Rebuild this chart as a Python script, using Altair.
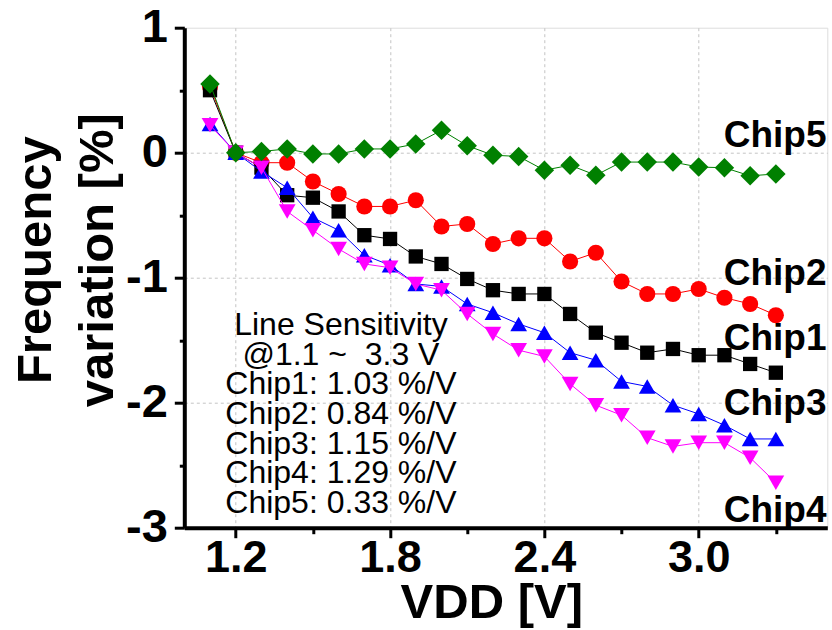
import altair as alt
import pandas as pd

vdd = [1.1, 1.2, 1.3, 1.4, 1.5, 1.6, 1.7, 1.8, 1.9, 2.0, 2.1, 2.2,
       2.3, 2.4, 2.5, 2.6, 2.7, 2.8, 2.9, 3.0, 3.1, 3.2, 3.3]
chip1 = [0.50, 0.0, -0.12, -0.34, -0.36, -0.47, -0.66, -0.69, -0.83, -0.89, -1.01, -1.10,
         -1.13, -1.13, -1.29, -1.44, -1.52, -1.60, -1.57, -1.62, -1.62, -1.69, -1.76]
chip2 = [0.53, 0.0, -0.08, -0.08, -0.23, -0.33, -0.43, -0.43, -0.38, -0.59, -0.57, -0.73,
         -0.685, -0.685, -0.87, -0.80, -1.03, -1.13, -1.13, -1.09, -1.16, -1.21, -1.30]
chip3 = [0.23, 0.0, -0.15, -0.28, -0.52, -0.62, -0.82, -0.90, -1.05, -1.07, -1.21, -1.28,
         -1.37, -1.44, -1.60, -1.66, -1.83, -1.87, -2.02, -2.09, -2.18, -2.29, -2.29]
chip4 = [0.22, 0.0, -0.12, -0.47, -0.62, -0.77, -0.89, -0.92, -1.05, -1.10, -1.29, -1.45,
         -1.58, -1.63, -1.85, -2.02, -2.10, -2.28, -2.35, -2.32, -2.32, -2.44, -2.64]
chip5 = [0.55, 0.0, 0.01, 0.03, -0.01, -0.01, 0.03, 0.03, 0.07, 0.18, 0.056, -0.02,
         -0.03, -0.14, -0.10, -0.18, -0.075, -0.075, -0.075, -0.115, -0.12, -0.185, -0.17]

x_major_ticks = [1.2, 1.8, 2.4, 3.0]
x_minor_ticks = [1.5, 2.1, 2.7, 3.3]
y_major_ticks = [-3, -2, -1, 0, 1]
y_minor_ticks = [-2.5, -1.5, -0.5, 0.5]

annotation_lines = ["Line Sensitivity", "@1.1 ~\u00a0\u00a03.3 V",
                    "Chip1: 1.03 %/V", "Chip2: 0.84 %/V", "Chip3: 1.15 %/V",
                    "Chip4: 1.29 %/V", "Chip5: 0.33 %/V"]

chip_labels = ["Chip5", "Chip2", "Chip1", "Chip3", "Chip4"]
chip_label_y = [0.048, -1.058, -1.578, -2.098, -2.952]

FONT = "Liberation Sans"

series = [
    ("Chip2", chip2, "#ff0000", "circle", 260),
    ("Chip1", chip1, "#000000", "square", 205),
    ("Chip3", chip3, "#0000ff", "triangle-up", 280),
    ("Chip4", chip4, "#ff00ff", "triangle-down", 280),
    ("Chip5", chip5, "#008000", "diamond", 380),
]

x_scale = alt.Scale(domain=[1.0, 3.5], nice=False, zero=False)
y_scale = alt.Scale(domain=[-3, 1], nice=False, zero=False)

x_major_axis = alt.Axis(
    orient="bottom",
    values=x_major_ticks,
    labelExpr="format(datum.value, '.1f')",
    tickSize=10, tickWidth=3, tickColor="black",
    domainWidth=4, domainColor="black",
    labelFont=FONT, labelFontSize=45, labelFontWeight="bold", labelColor="black",
    labelPadding=34, labelBaseline="alphabetic",
    grid=True, gridColor="#c4c4c4", gridDash=[3, 3], gridWidth=1,
    title="VDD [V]", titleFont=FONT, titleFontSize=49, titleFontWeight="bold",
    titleColor="black", titleX=307, titleY=90, titleBaseline="alphabetic",
    titleAlign="center",
)
x_minor_axis = alt.Axis(
    orient="bottom", values=x_minor_ticks, tickSize=6, tickWidth=3, tickColor="black",
    labels=False, domain=False, grid=False, title=None,
)
y_major_axis = alt.Axis(
    orient="left",
    values=y_major_ticks,
    labelExpr="toString(datum.value)",
    tickSize=10, tickWidth=3, tickColor="black",
    domainWidth=4, domainColor="black",
    labelFont=FONT, labelFontSize=47, labelFontWeight="bold", labelColor="black",
    labelPadding=7, labelBaseline="middle",
    grid=True, gridColor="#c4c4c4", gridDash=[3, 3], gridWidth=1,
    gridOpacity={"condition": {"test": "datum.value > -3 && datum.value < 1", "value": 1},
                 "value": 0},
    title=["Frequency", "variation [%]"], titleFont=FONT, titleFontSize=49,
    titleFontWeight="bold", titleColor="black", titleAngle=-90,
    titleX=-134, titleY=232, titleBaseline="alphabetic", titleAlign="center",
    titleLineHeight=62,
)
y_minor_axis = alt.Axis(
    orient="left", values=y_minor_ticks, tickSize=5, tickWidth=3, tickColor="black",
    labels=False, domain=False, grid=False, title=None,
)


def enc(xaxis, yaxis):
    return dict(
        x=alt.X("V:Q", scale=x_scale, axis=xaxis),
        y=alt.Y("val:Q", scale=y_scale, axis=yaxis),
    )


layers = []
for i, (name, vals, color, shape, size) in enumerate(series):
    df = pd.DataFrame({"V": vdd, "val": vals})
    if i == 0:
        line_enc = enc(x_major_axis, y_major_axis)
        pt_enc = enc(x_minor_axis, y_minor_axis)
    else:
        line_enc = enc(None, None)
        pt_enc = enc(None, None)
    layers.append(alt.Chart(df).mark_line(color=color, strokeWidth=1).encode(**line_enc))
    layers.append(alt.Chart(df).mark_point(shape=shape, size=size, filled=True, color=color,
                                           opacity=1).encode(**pt_enc))

lab_df = pd.DataFrame({"V": [3.497] * len(chip_labels), "val": chip_label_y, "label": chip_labels})
layers.append(
    alt.Chart(lab_df).mark_text(font=FONT, fontSize=37, fontWeight="bold", color="black",
                                align="right", baseline="alphabetic")
    .encode(text="label:N", **enc(None, None))
)

ann_df = pd.DataFrame({"V": [1.609], "val": [-1.458]})
layers.append(
    alt.Chart(ann_df).mark_text(text=annotation_lines, font=FONT, fontSize=32, color="black",
                                align="center", baseline="alphabetic", lineHeight=29.7)
    .encode(**enc(None, None))
)

chart = alt.layer(*layers).resolve_axis(x="independent", y="independent").properties(
    width=643, height=500,
    autosize=alt.AutoSizeParams(type="none"),
    padding={"left": 184.3, "top": 27.7, "right": 4.7, "bottom": 102.3},
).configure_view(stroke=None).configure(background="white")

chart.save("out.html", embed_options={"renderer": "svg", "actions": False})
